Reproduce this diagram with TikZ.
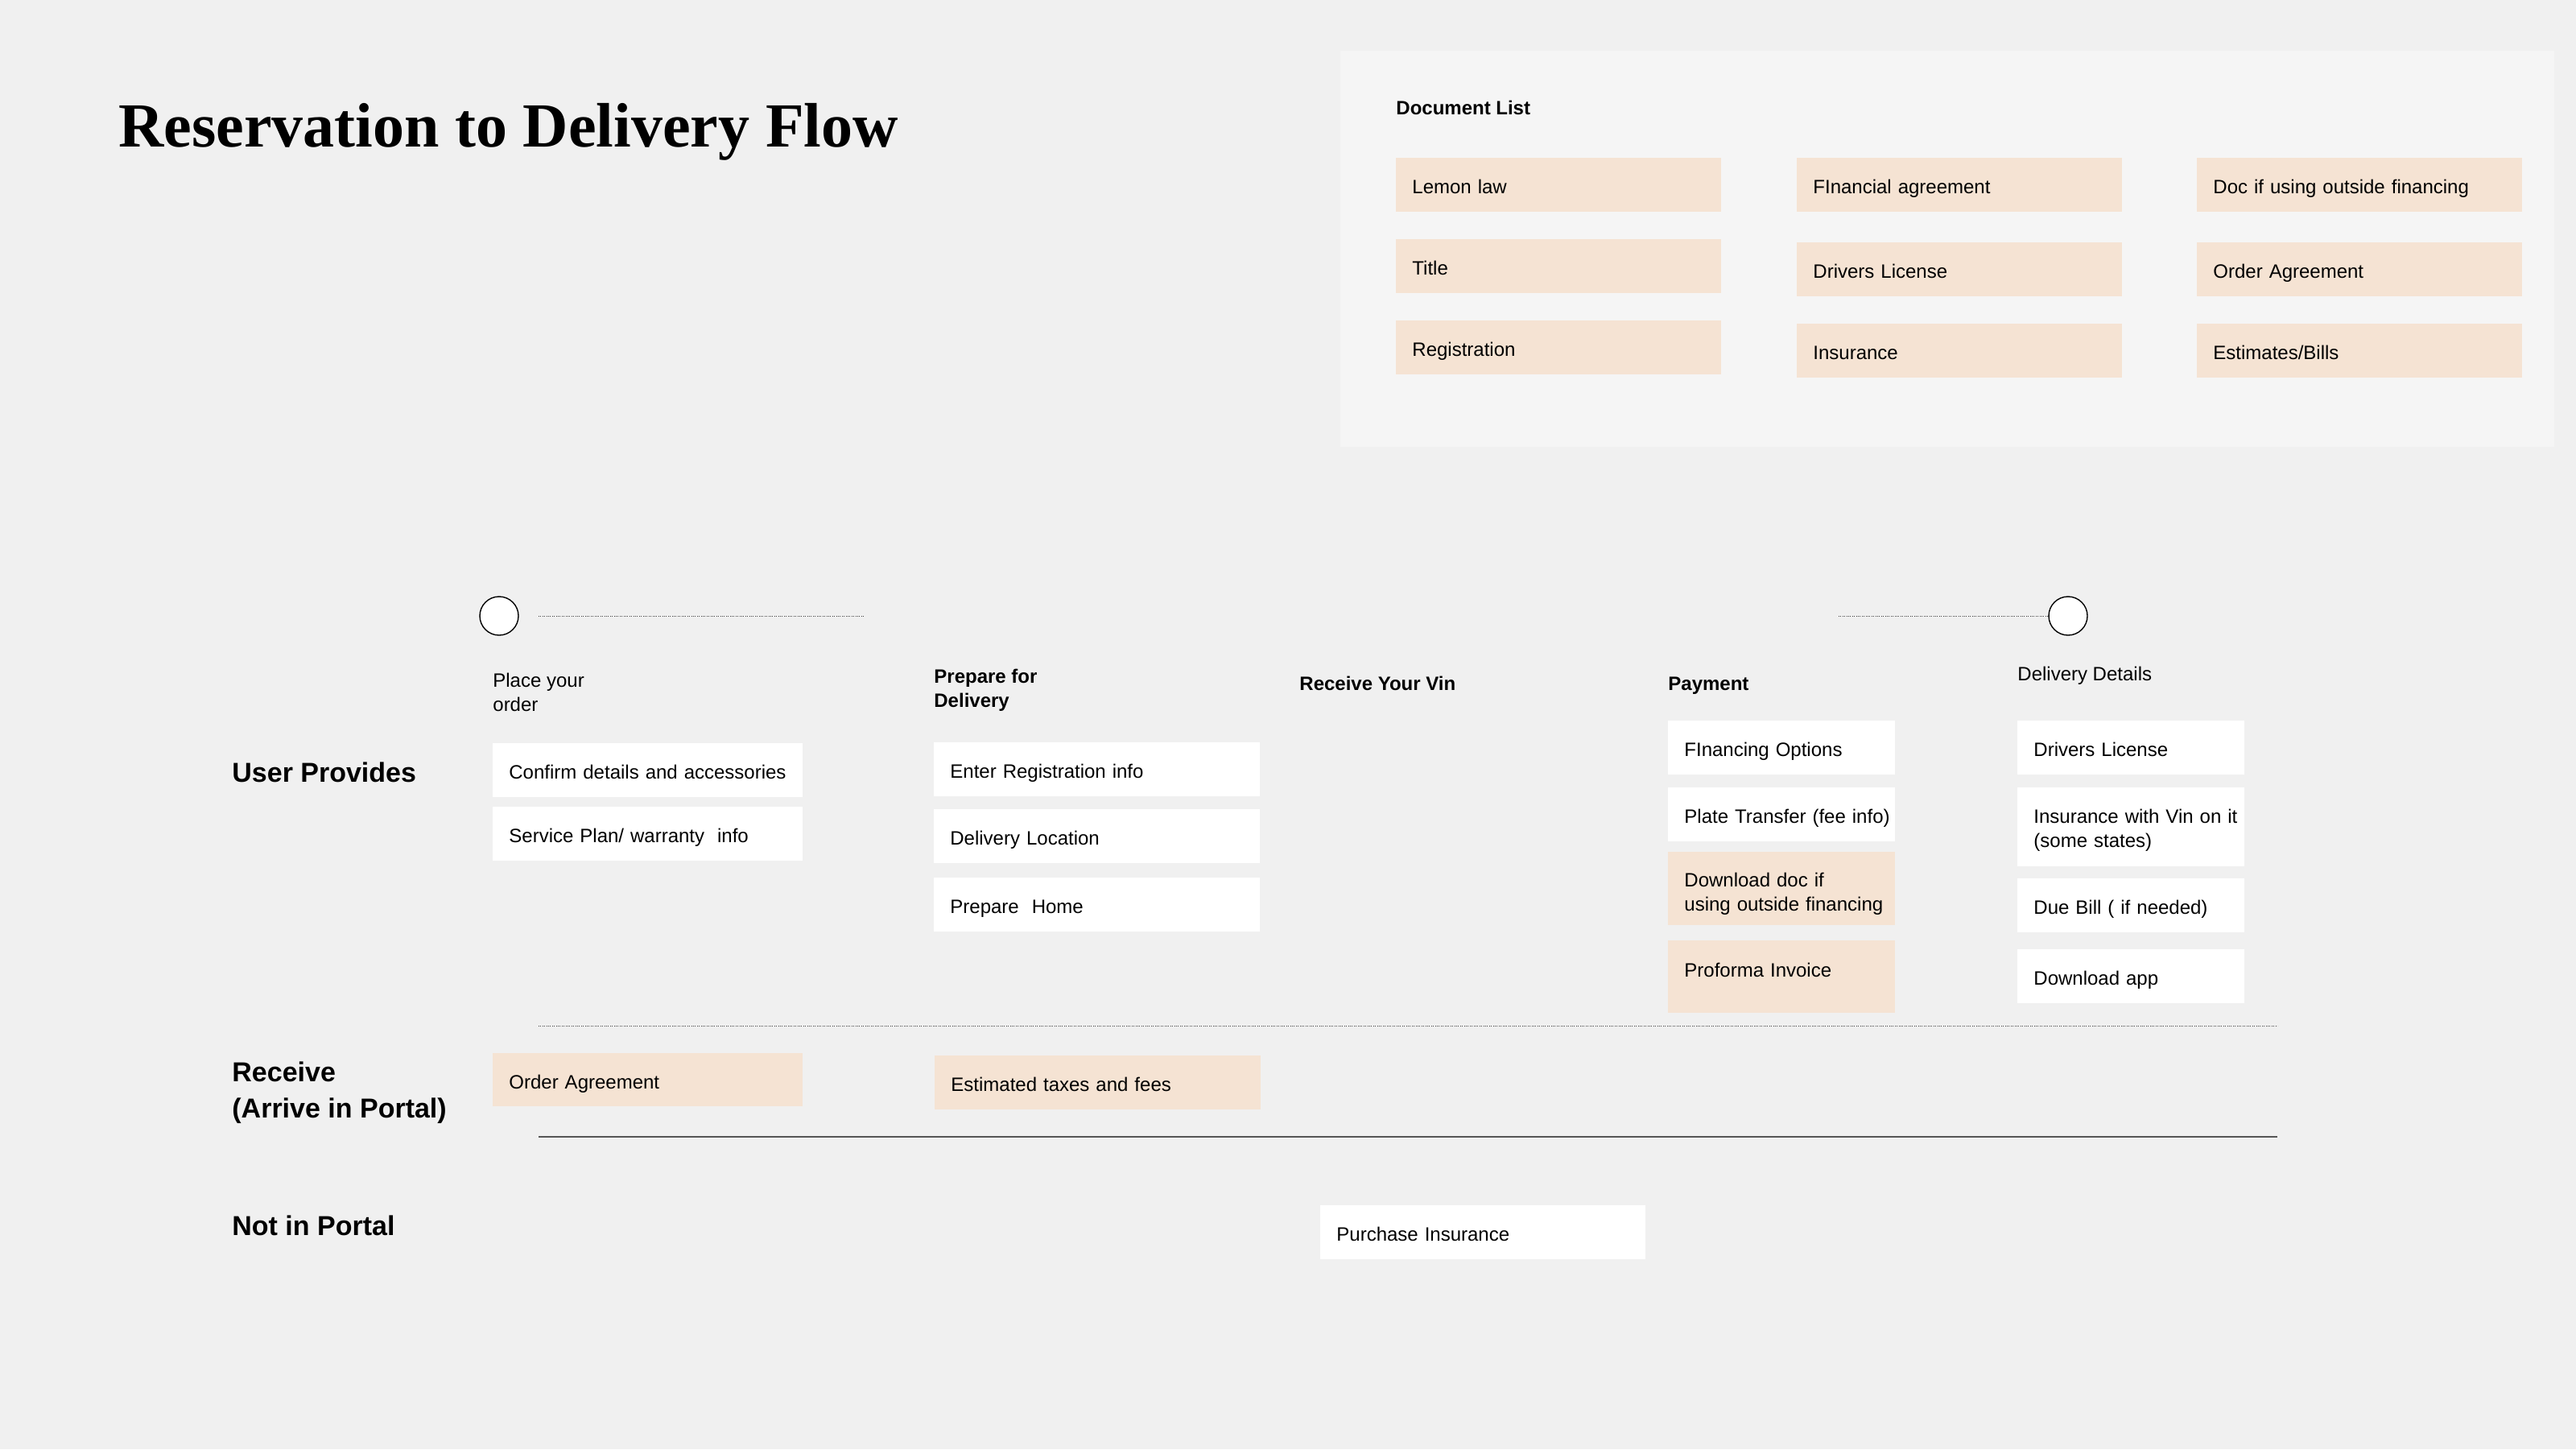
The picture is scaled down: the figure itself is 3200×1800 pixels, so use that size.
\documentclass[tikz,border=0pt]{standalone}
\usepackage{fontspec}
\setmainfont{Liberation Sans}
\newfontfamily\titlefont{Liberation Serif}
\definecolor{bg}{HTML}{F0F0F0}
\definecolor{panelc}{HTML}{F5F5F5}
\definecolor{peach}{HTML}{F5E3D3}
\definecolor{linec}{HTML}{555555}
\newcommand\bodyfont{\fontsize{12pt}{15pt}\selectfont}
\newcommand\rowfont{\fontsize{17pt}{22.5pt}\selectfont\bfseries}
\newcommand\nb[1]{\mbox{#1}}
\begin{document}
\begin{tikzpicture}[x=0.5pt,y=-0.5pt,
  cellbase/.style={anchor=north west, inner xsep=10pt, inner ysep=0pt, align=left, text width=#1, font=\bodyfont},
  one/.style={text height=10.6pt, text depth=0pt},
  wcell/.style={cellbase=#1, fill=white},
  pcell/.style={cellbase=#1, fill=peach},
  hgt/.style={minimum height=#1},
  txt/.style={inner sep=0pt, anchor=west, align=left, font=\bodyfont},
  head/.style={txt, font=\bodyfont\bfseries},
  rowlab/.style={inner sep=0pt, anchor=west, align=left, font=\rowfont},
  milestone/.style={circle, draw=black, line width=0.7pt, fill=white, minimum size=24pt, inner sep=0pt},
  dotline/.style={draw=black!75, line width=0.5pt, dash pattern=on 0.5pt off 0.7pt},
  solidline/.style={draw=linec, line width=0.8pt}
]
\fill[bg] (0,0) rectangle (3200,1800);
\useasboundingbox (0,0) rectangle (3200,1800);

% title
\node[anchor=base west, inner sep=0pt, font=\titlefont\bfseries\fontsize{39pt}{44pt}\selectfont] (title) at (147,182) {Reservation to Delivery Flow};

% document list panel
\node[fill=panelc, anchor=north west, minimum width=754pt, minimum height=246pt, inner sep=0pt] (panel) at (1665,63) {};
\node[anchor=base west, inner sep=0pt, font=\bodyfont\bfseries] (doclist) at (1734,142) {Document List};

\node[pcell=182pt, one, hgt=33.5pt] (d11) at (1734,196) {\nb{Lemon law}};
\node[pcell=182pt, one, hgt=33.5pt] (d21) at (1734,297) {\nb{Title}};
\node[pcell=182pt, one, hgt=33.5pt] (d31) at (1734,398) {\nb{Registration}};
\node[pcell=182pt, one, hgt=33.5pt] (d12) at (2232,196) {\nb{FInancial agreement}};
\node[pcell=182pt, one, hgt=33.5pt] (d22) at (2232,301) {\nb{Drivers License}};
\node[pcell=182pt, one, hgt=33.5pt] (d32) at (2232,402) {\nb{Insurance}};
\node[pcell=182pt, one, hgt=33.5pt] (d13) at (2729,196) {\nb{Doc if using outside financing}};
\node[pcell=182pt, one, hgt=33.5pt] (d23) at (2729,301) {\nb{Order Agreement}};
\node[pcell=182pt, one, hgt=33.5pt] (d33) at (2729,402) {\nb{Estimates/Bills}};

% timeline
\node[milestone] (c1) at (620,765) {};
\node[milestone] (c2) at (2569,765) {};
\coordinate (l1s) at (669,765);
\coordinate (l1e) at (1073,765);
\coordinate (l2s) at (2284,765);
\draw[dotline] (l1s) -- (l1e);
\draw[dotline] (l2s) -- (c2.west);

% column headings
\node[txt] (h1) at (612,860) {Place your\\order};
\node[head] (h2) at (1160,857) {Prepare for\\Delivery};
\node[head] (h3) at (1614,849) {Receive Your Vin};
\node[head] (h4) at (2072,852) {Payment};
\node[txt] (h5) at (2506,839) {Delivery Details};

% row labels
\node[rowlab] (r1) at (288,959) {User Provides};
\node[rowlab] (r2) at (288,1357) {Receive\\(Arrive in Portal)};
\node[rowlab] (r3) at (288,1522) {Not in Portal};

% user provides cells
\node[wcell=172.5pt, one, hgt=33.5pt] (u11) at (612,923) {\nb{Confirm details and accessories}};
\node[wcell=172.5pt, one, hgt=33.5pt] (u12) at (612,1002) {\nb{Service Plan/ warranty~ info}};

\node[wcell=182.5pt, one, hgt=33.5pt] (u21) at (1160,922) {\nb{Enter Registration info}};
\node[wcell=182.5pt, one, hgt=33.5pt] (u22) at (1160,1005) {\nb{Delivery Location}};
\node[wcell=182.5pt, one, hgt=33.5pt] (u23) at (1160,1090) {\nb{Prepare~ Home}};

\node[wcell=121pt, one, hgt=33.5pt] (p1) at (2072,895) {\nb{FInancing Options}};
\node[wcell=121pt, one, hgt=33.5pt] (p2) at (2072,978) {\nb{Plate Transfer (fee info)}};
\node[pcell=121pt, hgt=45.5pt] (p3) at (2072,1058) {\rule{0pt}{14.6pt}\nb{Download doc if}\\\nb{using outside financing}};
\node[pcell=121pt, text height=10.6pt, text depth=11pt, hgt=45pt] (p4) at (2072,1168) {\nb{Proforma Invoice}};

\node[wcell=121pt, one, hgt=33.5pt] (e1) at (2506,895) {\nb{Drivers License}};
\node[wcell=121pt, hgt=49pt] (e2) at (2506,978) {\rule{0pt}{12.6pt}\nb{Insurance with Vin on it}\\\nb{(some states)}};
\node[wcell=121pt, one, hgt=33.5pt] (e3) at (2506,1091) {\nb{Due Bill ( if needed)}};
\node[wcell=121pt, one, hgt=33.5pt] (e4) at (2506,1179) {\nb{Download app}};

% separators
\coordinate (s1a) at (669,1274);
\coordinate (s1b) at (2829,1274);
\coordinate (s2a) at (669,1412);
\coordinate (s2b) at (2829,1412);
\draw[dotline] (s1a) -- (s1b);
\draw[solidline] (s2a) -- (s2b);

% receive row
\node[pcell=172.5pt, one, hgt=33pt] (v1) at (612,1308) {\nb{Order Agreement}};
\node[pcell=182.5pt, one, hgt=33.5pt] (v2) at (1161,1311) {\nb{Estimated taxes and fees}};

% not in portal
\node[wcell=182pt, one, hgt=33.5pt] (n1) at (1640,1497) {\nb{Purchase Insurance}};
\end{tikzpicture}
\end{document}
